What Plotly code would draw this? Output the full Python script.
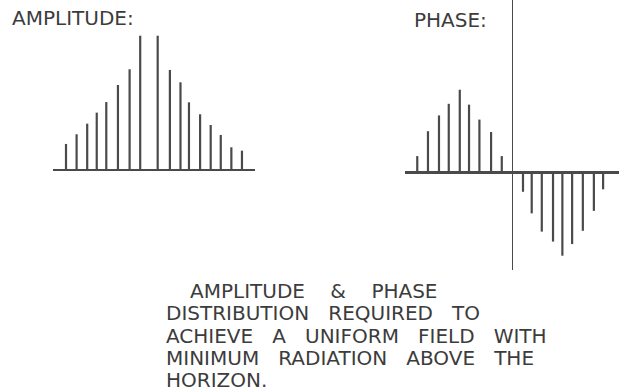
import plotly.graph_objects as go

W, H = 622, 391

# ---- data -------------------------------------------------------------
# amplitude distribution (element position in element spacings, relative amplitude)
amp_pos = [0.0, 1.0, 2.0, 2.9, 3.8, 4.9, 6.0, 7.0, 8.65, 9.8, 10.8, 11.6,
           12.65, 13.65, 14.6, 15.6, 16.6]
amp_val = [0.194, 0.266, 0.345, 0.427, 0.506, 0.633, 0.750, 1.0, 1.0, 0.745,
           0.653, 0.504, 0.415, 0.335, 0.261, 0.169, 0.144]

# phase distribution (element position relative to centre, relative phase)
phase_pos = [-9.09, -8.07, -7.02, -6.09, -5.04, -4.16, -3.17, -2.06, -1.04,
             0.98, 1.81, 2.77, 3.84, 4.73, 5.66, 6.68, 7.73, 8.61]
phase_val = [0.20, 0.50, 0.69, 0.83, 1.0, 0.82, 0.64, 0.49, 0.20,
             -0.23, -0.49, -0.71, -0.83, -1.0, -0.86, -0.70, -0.46, -0.20]

title_amp = "AMPLITUDE:"
title_phase = "PHASE:"
caption_lines = [
    "AMPLITUDE    &    PHASE",
    "DISTRIBUTION   REQUIRED   TO",
    "ACHIEVE   A   UNIFORM   FIELD   WITH",
    "MINIMUM   RADIATION   ABOVE   THE",
    "HORIZON.",
]

# ---- styling ------------------------------------------------------------
BAR = "#4a4a4a"
TXT = "#3c3c3c"
FONT = dict(family="DejaVu Sans", size=20, color=TXT)


def stems(xs, ys):
    sx, sy = [], []
    for x, y in zip(xs, ys):
        sx += [x, x, None]
        sy += [0, y, None]
    return sx, sy


fig = go.Figure()
ax, ay = stems(amp_pos, amp_val)
fig.add_trace(go.Scatter(x=ax, y=ay, mode="lines", xaxis="x", yaxis="y",
                         line=dict(color=BAR, width=2.2), hoverinfo="skip",
                         showlegend=False))
px_, py_ = stems(phase_pos, phase_val)
fig.add_trace(go.Scatter(x=px_, y=py_, mode="lines", xaxis="x2", yaxis="y2",
                         line=dict(color=BAR, width=2.2), hoverinfo="skip",
                         showlegend=False))

# pixel helpers for axis layout
amp_unit, amp_x0 = 10.6, 66.0          # px per element, px of first element
amp_base, amp_scale = 170.0, 134.3     # px of baseline, px per unit amplitude
ph_unit, ph_x0 = 10.5, 512.7
ph_base, ph_scale = 172.7, 83.0
ph_top, ph_bottom = 0.0, 270.0

axis_common = dict(showgrid=False, showticklabels=False, ticks="",
                   showline=False, fixedrange=True)

fig.update_layout(
    width=W, height=H,
    margin=dict(l=0, r=0, t=0, b=0),
    paper_bgcolor="white", plot_bgcolor="rgba(0,0,0,0)",
    xaxis=dict(domain=[53 / W, 255 / W],
               range=[(53 - amp_x0) / amp_unit, (255 - amp_x0) / amp_unit],
               zeroline=False, anchor="y", **axis_common),
    yaxis=dict(domain=[0, 1],
               range=[(amp_base - H) / amp_scale, amp_base / amp_scale],
               zeroline=True, zerolinecolor=BAR, zerolinewidth=2.6,
               anchor="x", **axis_common),
    xaxis2=dict(domain=[405 / W, 619 / W],
                range=[(405 - ph_x0) / ph_unit, (619 - ph_x0) / ph_unit],
                zeroline=True, zerolinecolor=BAR, zerolinewidth=1.2,
                anchor="y2", **axis_common),
    yaxis2=dict(domain=[(H - ph_bottom) / H, (H - ph_top) / H],
                range=[(ph_base - ph_bottom) / ph_scale, (ph_base - ph_top) / ph_scale],
                zeroline=True, zerolinecolor=BAR, zerolinewidth=2.6,
                anchor="x2", **axis_common),
)

ann = [
    dict(text=title_amp, x=11 / W, y=1 - 18.5 / H),
    dict(text=title_phase, x=413 / W, y=1 - 20.5 / H),
]
cap_x = [189, 165, 165, 165, 165]
cap_y = [290.5, 313, 335.5, 358, 379.5]
for t, cx, cy in zip(caption_lines, cap_x, cap_y):
    ann.append(dict(text=t, x=cx / W, y=1 - cy / H))
for a in ann:
    a.update(xref="paper", yref="paper", xanchor="left", yanchor="middle",
             showarrow=False, font=FONT, borderpad=0)
fig.update_layout(annotations=ann)

fig.write_html(
    "out.html",
    config={"displayModeBar": False, "staticPlot": True},
    post_script="document.body.style.margin='0';document.body.style.overflow='hidden';",
)
